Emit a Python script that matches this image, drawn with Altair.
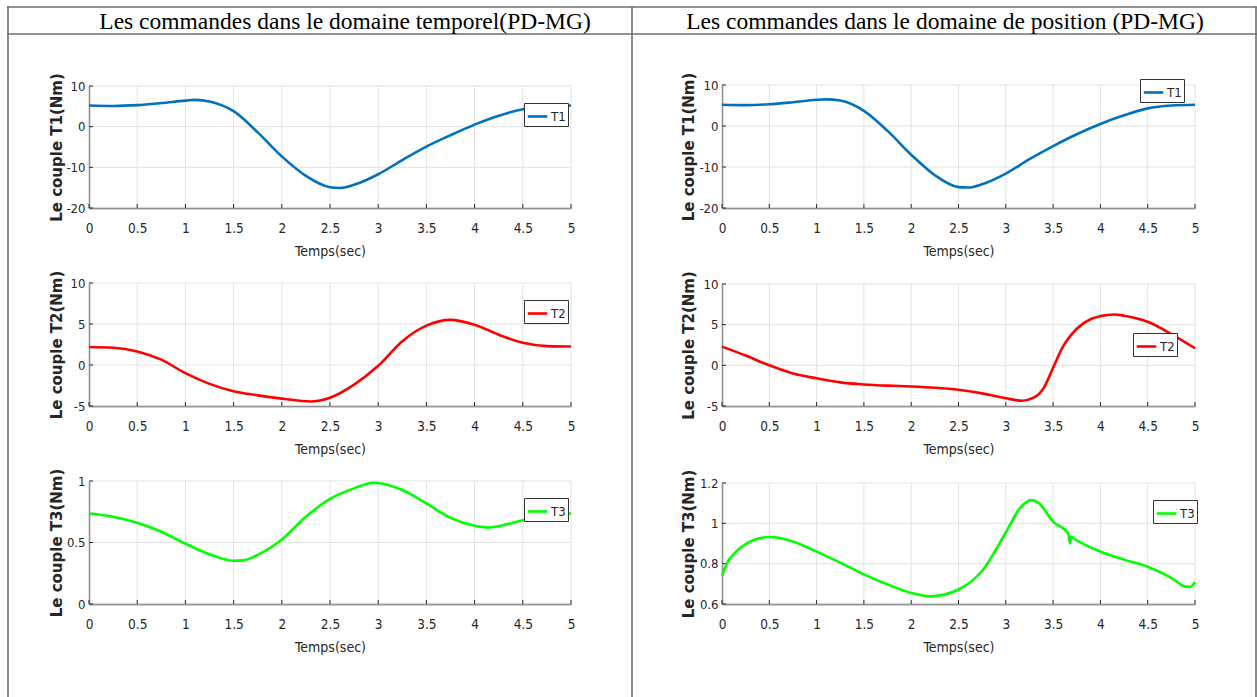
import altair as alt
import pandas as pd

W, H = 1257, 697

# ---------------- data ----------------
HEADER_LEFT = "Les commandes dans le domaine temporel(PD-MG)"
HEADER_RIGHT = "Les commandes dans le domaine de position (PD-MG)"
X_TITLE = "Temps(sec)"
X_TICKS = [0, 0.5, 1, 1.5, 2, 2.5, 3, 3.5, 4, 4.5, 5]

# time domain (left column)
L1_T = [0, 0.25, 0.5, 0.75, 1.0, 1.1, 1.25, 1.5, 1.75, 2.0, 2.25, 2.5, 2.6, 2.75,
        3.0, 3.25, 3.5, 3.75, 4.0, 4.25, 4.5, 4.75, 5.0]
L1_V = [5.2, 5.1, 5.3, 5.8, 6.4, 6.6, 6.2, 3.8, -1.4, -7.3, -12.1, -14.9, -15.1, -14.3,
        -11.7, -8.2, -4.9, -2.1, 0.5, 2.7, 4.3, 5.0, 5.2]

L2_T = [0, 0.25, 0.5, 0.75, 1.0, 1.25, 1.5, 1.75, 2.0, 2.3, 2.5, 2.75, 3.0, 3.25,
        3.5, 3.75, 4.0, 4.25, 4.5, 4.75, 5.0]
L2_V = [2.2, 2.1, 1.65, 0.65, -1.0, -2.3, -3.2, -3.7, -4.1, -4.45, -4.0, -2.4, -0.1, 2.9,
        4.8, 5.5, 4.9, 3.7, 2.7, 2.3, 2.25]

L3_T = [0, 0.25, 0.5, 0.75, 1.0, 1.25, 1.5, 1.6, 1.75, 2.0, 2.25, 2.5, 2.75, 2.95,
        3.25, 3.5, 3.75, 4.0, 4.15, 4.25, 4.5, 4.75, 5.0]
L3_V = [0.736, 0.71, 0.66, 0.587, 0.49, 0.405, 0.352, 0.355, 0.40, 0.525, 0.71, 0.855, 0.94, 0.986,
        0.927, 0.818, 0.70, 0.636, 0.622, 0.633, 0.68, 0.728, 0.736]

# position domain (right column)
R1_T = [0, 0.25, 0.5, 0.75, 1.0, 1.1, 1.25, 1.5, 1.75, 2.0, 2.25, 2.5, 2.6, 2.75,
        3.0, 3.25, 3.5, 3.75, 4.0, 4.25, 4.5, 4.75, 5.0]
R1_V = [5.2, 5.1, 5.3, 5.8, 6.4, 6.5, 6.2, 3.7, -1.2, -7.0, -12.0, -14.9, -15.0, -14.2,
        -11.6, -8.1, -4.9, -2.0, 0.5, 2.6, 4.3, 5.0, 5.2]

R2_T = [0, 0.25, 0.5, 0.75, 1.0, 1.25, 1.5, 1.75, 2.0, 2.25, 2.5, 2.75, 3.0, 3.17,
        3.3, 3.4, 3.5, 3.6, 3.75, 3.9, 4.0, 4.15, 4.25, 4.5, 4.75, 5.0]
R2_V = [2.3, 1.2, 0.0, -1.0, -1.6, -2.1, -2.35, -2.5, -2.6, -2.75, -3.0, -3.45, -4.05, -4.35,
        -3.95, -2.8, -0.3, 2.2, 4.5, 5.7, 6.05, 6.25, 6.1, 5.35, 3.85, 2.1]

R3_T = [0, 0.05, 0.15, 0.25, 0.5, 0.75, 1.0, 1.25, 1.5, 1.75, 2.0, 2.2, 2.5, 2.75,
        3.0, 3.15, 3.27, 3.35, 3.5, 3.66, 3.68, 3.69, 3.72, 4.0, 4.25, 4.5, 4.75,
        4.9, 4.95, 5.0]
R3_V = [0.74, 0.80, 0.86, 0.897, 0.932, 0.91, 0.86, 0.805, 0.747, 0.697, 0.655, 0.638, 0.672, 0.765,
        0.955, 1.075, 1.115, 1.10, 1.008, 0.95, 0.90, 0.935, 0.925, 0.86, 0.82, 0.785, 0.73,
        0.686, 0.685, 0.71]

# ---------------- layout / style ----------------
DARK = "#262626"
GRID = "#e2e2e2"
TICK_FONT = "DejaVu Sans Condensed, Liberation Sans Narrow, Arial Narrow, Liberation Sans, sans-serif"
YT_FONT = "DejaVu Sans"
SERIF = "Liberation Serif, Times New Roman, serif"

panels = [
    dict(t=L1_T, v=L1_V, name="T1", color="#0072BD", yd=[-20, 10], yt=[-20, -10, 0, 10],
         xr=[89, 571], yr=[208, 86], ytitle="Le couple T1(Nm)", leg=(524, 103), tx=56),
    dict(t=L2_T, v=L2_V, name="T2", color="#FF0000", yd=[-5, 10], yt=[-5, 0, 5, 10],
         xr=[89, 571], yr=[406, 283], ytitle="Le couple T2(Nm)", leg=(524, 300), tx=56),
    dict(t=L3_T, v=L3_V, name="T3", color="#00FF00", yd=[0, 1], yt=[0, 0.5, 1],
         xr=[89, 571], yr=[604, 481], ytitle="Le couple T3(Nm)", leg=(524, 498), tx=56),
    dict(t=R1_T, v=R1_V, name="T1", color="#0072BD", yd=[-20, 10], yt=[-20, -10, 0, 10],
         xr=[722, 1195], yr=[208, 85], ytitle="Le couple T1(Nm)", leg=(1140, 79), tx=688),
    dict(t=R2_T, v=R2_V, name="T2", color="#FF0000", yd=[-5, 10], yt=[-5, 0, 5, 10],
         xr=[722, 1195], yr=[406, 284], ytitle="Le couple T2(Nm)", leg=(1133, 333), tx=688),
    dict(t=R3_T, v=R3_V, name="T3", color="#00FF00", yd=[0.6, 1.2], yt=[0.6, 0.8, 1, 1.2],
         xr=[722, 1195], yr=[604, 483], ytitle="Le couple T3(Nm)", leg=(1153, 500), tx=688),
]

TICK_PX = 4


def panel_layers(p):
    xs = alt.Scale(domain=[0, 5], range=p["xr"], nice=False, zero=False)
    ys = alt.Scale(domain=p["yd"], range=p["yr"], nice=False, zero=False)
    ymin, ymax = p["yd"]
    hpx = p["yr"][0] - p["yr"][1]
    wpx = p["xr"][1] - p["xr"][0]
    xt = pd.DataFrame({"v": X_TICKS})
    yt = pd.DataFrame({"v": p["yt"]})
    df = pd.DataFrame({"t": p["t"], "v": p["v"], "s": p["name"]})

    grid_x = alt.Chart(xt).mark_rule(color=GRID, strokeWidth=1).encode(
        x=alt.X("v:Q", scale=xs, axis=None),
        y=alt.YDatum(ymin, scale=ys, axis=None),
        y2=alt.Y2Datum(ymax),
    )
    grid_y = alt.Chart(yt).mark_rule(color=GRID, strokeWidth=1).encode(
        y=alt.Y("v:Q", scale=ys, axis=None),
        x=alt.XDatum(0, scale=xs, axis=None),
        x2=alt.X2Datum(5),
    )
    tick_x = alt.Chart(xt).mark_rule(color=DARK, strokeWidth=1).encode(
        x=alt.X("v:Q", scale=xs, axis=None),
        y=alt.YDatum(ymin, scale=ys, axis=None),
        y2=alt.Y2Datum(ymin + (ymax - ymin) * TICK_PX / hpx),
    )
    tick_y = alt.Chart(yt).mark_rule(color=DARK, strokeWidth=1).encode(
        y=alt.Y("v:Q", scale=ys, axis=None),
        x=alt.XDatum(0, scale=xs, axis=None),
        x2=alt.X2Datum(5 * TICK_PX / wpx),
    )
    line = alt.Chart(df).mark_line(strokeWidth=2.6, interpolate="monotone").encode(
        x=alt.X("t:Q", scale=xs, axis=alt.Axis(
            orient="bottom", offset=p["yr"][0] - H, values=X_TICKS, grid=False, ticks=False,
            domainColor="#444444", domainWidth=1.4, labelFont=TICK_FONT, labelFontSize=13.5,
            labelColor=DARK, labelPadding=13, labelExpr="'' + datum.value",
            labelFlush=False, labelOverlap=False,
            title=X_TITLE, titleFont=TICK_FONT, titleFontSize=14, titleFontWeight="normal",
            titleColor=DARK, titlePadding=10)),
        y=alt.Y("v:Q", scale=ys, axis=alt.Axis(
            orient="left", offset=-p["xr"][0], values=p["yt"], grid=False, ticks=False,
            domainColor="#444444", domainWidth=1.4, labelFont=TICK_FONT, labelFontSize=13,
            labelColor=DARK, labelPadding=4, labelExpr="'' + datum.value",
            labelFlush=False, labelOverlap=False,
            title=p["ytitle"], titleFont=YT_FONT, titleFontSize=15, titleFontWeight="bold",
            titleColor=DARK, titleAngle=270, titleAlign="center", titleBaseline="middle",
            titleX=p["tx"] - p["xr"][0], titleY=(p["yr"][0] + p["yr"][1]) / 2)),
        color=alt.Color("s:N", scale=alt.Scale(domain=[p["name"]], range=[p["color"]]),
                        legend=alt.Legend(
                            orient="none", legendX=p["leg"][0], legendY=p["leg"][1],
                            title=None, symbolType="stroke", symbolStrokeWidth=2.6,
                            symbolSize=380, labelFont=TICK_FONT, labelFontSize=13,
                            labelColor=DARK, strokeColor="#333333", fillColor="white",
                            padding=2, labelOffset=2)),
    )
    return [grid_x, grid_y, tick_x, tick_y, line]


# table frame and headers
frame = pd.DataFrame({
    "x": [7, 7, 8, 632, 1256],
    "x2": [1257, 1257, 8, 632, 1256],
    "y": [7, 34, 6, 7, 7],
    "y2": [7, 34, 697, 697, 697],
})
frame_chart = alt.Chart(frame).mark_rule(color="#6e6e6e", strokeWidth=1.6).encode(
    x=alt.X("x:Q", scale=None), x2="x2:Q", y=alt.Y("y:Q", scale=None), y2="y2:Q")

headers = pd.DataFrame({"text": [HEADER_LEFT, HEADER_RIGHT], "x": [345, 945], "y": [29, 29]})
header_chart = alt.Chart(headers).mark_text(
    font=SERIF, fontSize=23.5, color="black", align="center", baseline="alphabetic"
).encode(x=alt.X("x:Q", scale=None), y=alt.Y("y:Q", scale=None), text="text:N")

layers = []
for p in panels:
    layers += panel_layers(p)
layers += [frame_chart, header_chart]

chart = alt.layer(*layers).resolve_scale(
    x="independent", y="independent", color="independent"
).resolve_axis(x="independent", y="independent").properties(
    width=W, height=H, padding=0, background="white",
    autosize=alt.AutoSizeParams(type="none"),
).configure_view(stroke=None)

chart.save("out.html", embed_options={"renderer": "svg", "actions": False})
